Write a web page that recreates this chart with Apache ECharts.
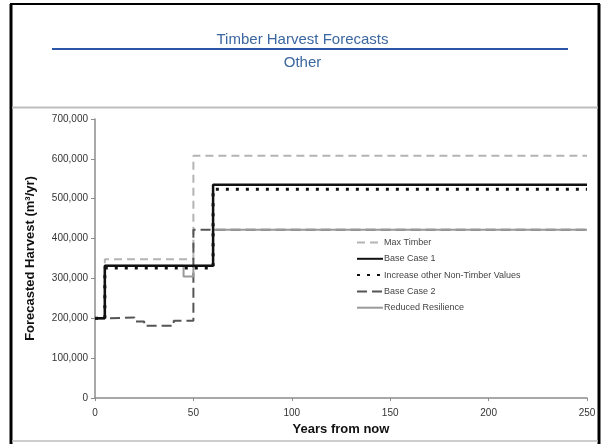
<!DOCTYPE html>
<html>
<head>
<meta charset="utf-8">
<script src="https://cdn.jsdelivr.net/npm/echarts@6/dist/echarts.min.js"></script>
<style>html,body{margin:0;padding:0;background:#fff}#c{width:605px;height:444px}</style>
</head>
<body>
<div id="c"></div>
<script>
const titleText = "Timber Harvest Forecasts";
const subTitleText = "Other";
const xAxisName = "Years from now";
const yAxisName = "Forecasted Harvest (m³/yr)";
const seriesNames = ["Max Timber", "Base Case 1", "Increase other Non-Timber Values", "Base Case 2", "Reduced Resilience"];

const maxTimberYears = [0, 5, 50, 250];
const maxTimberValues = [200000, 348000, 608000, 608000];
const baseCase1Years = [0, 5, 60, 250];
const baseCase1Values = [200000, 332000, 535000, 535000];
const nonTimberYears = [0, 5, 60, 250];
const nonTimberValues = [200000, 326000, 524000, 524000];
const baseCase2Years = [0, 5, 20, 25, 40, 50, 250];
const baseCase2Values = [200000, 202000, 192000, 181000, 194000, 422000, 422000];
const resilienceYears = [0, 5, 45, 50, 60, 250];
const resilienceValues = [200000, 332000, 305000, 332000, 422000, 422000];

const xTicks = [0, 50, 100, 150, 200, 250];
const yTicks = [0, 100000, 200000, 300000, 400000, 500000, 600000, 700000];

function pairs(xs, ys) { return xs.map((x, i) => [x, ys[i]]); }
function fmt(v) { return String(v).replace(/\B(?=(\d{3})+(?!\d))/g, ','); }

const chart = echarts.init(document.getElementById('c'), null, {renderer: 'canvas'});

const styles = [
  {color: '#b4b4b4', width: 2, type: [8, 5]},
  {color: '#111111', width: 2.5, type: 'solid'},
  {color: '#111111', width: 3, type: [3, 7]},
  {color: '#555555', width: 2, type: [10, 5]},
  {color: '#9a9a9a', width: 2, type: 'solid'}
];
const datasets = [
  pairs(maxTimberYears, maxTimberValues),
  pairs(baseCase1Years, baseCase1Values),
  pairs(nonTimberYears, nonTimberValues),
  pairs(baseCase2Years, baseCase2Values),
  pairs(resilienceYears, resilienceValues)
];
const zs = [2, 4, 5, 3, 3];

chart.setOption({
  animation: false,
  backgroundColor: '#fff',
  title: [
    {text: titleText, left: 'center', top: 27, textStyle: {fontFamily: 'Liberation Sans', fontSize: 15, fontWeight: 'normal', color: '#3b67a0'}},
    {text: subTitleText, left: 'center', top: 50, textStyle: {fontFamily: 'Liberation Sans', fontSize: 15, fontWeight: 'normal', color: '#3b67a0'}}
  ],
  graphic: [
    {type: 'line', shape: {x1: 52, y1: 49, x2: 568, y2: 49}, style: {stroke: '#2a55a8', lineWidth: 2}},
    {type: 'line', shape: {x1: 11, y1: 4, x2: 11, y2: 444}, style: {stroke: '#000', lineWidth: 3}},
    {type: 'line', shape: {x1: 10, y1: 4, x2: 600, y2: 4}, style: {stroke: '#000', lineWidth: 2}},
    {type: 'line', shape: {x1: 599, y1: 4, x2: 599, y2: 444}, style: {stroke: '#000', lineWidth: 3}},
    {type: 'line', shape: {x1: 12, y1: 107.5, x2: 598, y2: 107.5}, style: {stroke: '#bdbdbd', lineWidth: 2}},
    {type: 'line', shape: {x1: 12, y1: 441, x2: 598, y2: 441}, style: {stroke: '#bdbdbd', lineWidth: 1.5}}
  ],
  grid: {left: 95, right: 18, top: 119, bottom: 46, containLabel: false},
  legend: {
    orient: 'vertical', left: 351, top: 232, itemWidth: 26, itemHeight: 10, itemGap: 5.3,
    data: seriesNames,
    itemStyle: {opacity: 0},
    textStyle: {fontFamily: 'Liberation Sans', fontSize: 9, lineHeight: 11, color: '#444', padding: [0, 0, 0, -4]}
  },
  xAxis: {
    type: 'value', min: 0, max: 250, interval: 50,
    name: xAxisName, nameLocation: 'middle', nameGap: 25,
    nameTextStyle: {fontFamily: 'Liberation Sans', fontSize: 13, fontWeight: 'bold', color: '#111'},
    axisLine: {lineStyle: {color: '#8c8c8c', width: 1.5}},
    axisTick: {show: true, length: 3, lineStyle: {color: '#8c8c8c'}},
    axisLabel: {fontFamily: 'Liberation Sans', fontSize: 10, color: '#333', margin: 10,
      formatter: v => xTicks.includes(v) ? String(v) : ''},
    splitLine: {show: false}
  },
  yAxis: {
    type: 'value', min: 0, max: 700000, interval: 100000,
    name: yAxisName, nameLocation: 'middle', nameGap: 58,
    nameTextStyle: {fontFamily: 'Liberation Sans', fontSize: 13, fontWeight: 'bold', color: '#111'},
    axisLine: {show: true, lineStyle: {color: '#8c8c8c', width: 1.5}},
    axisTick: {show: true, length: 4, lineStyle: {color: '#8c8c8c'}},
    axisLabel: {fontFamily: 'Liberation Sans', fontSize: 10, color: '#333', margin: 7,
      formatter: v => yTicks.includes(v) ? fmt(v) : ''},
    splitLine: {show: false}
  },
  series: seriesNames.map((name, i) => ({
    name: name, type: 'line', step: 'end', data: datasets[i], symbol: 'none', z: zs[i],
    lineStyle: styles[i], itemStyle: {color: styles[i].color}
  }))
});
</script>
</body>
</html>
